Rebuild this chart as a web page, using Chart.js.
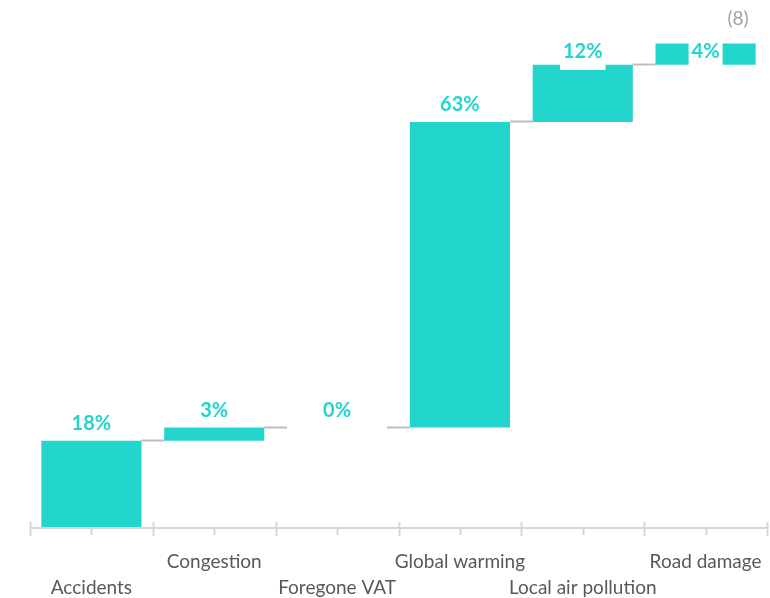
<!DOCTYPE html>
<html>
<head>
<meta charset="utf-8">
<script src="https://cdn.jsdelivr.net/npm/chart.js@4"></script>
<style>
  html, body { margin: 0; padding: 0; background: #fff; }
  #wrap { width: 770px; height: 598px; }
</style>
</head>
<body>
<div id="wrap"><canvas id="chart"></canvas></div>
<script>
// categories and their share of the total external cost (%)
const categories = ['Accidents', 'Congestion', 'Foregone VAT', 'Global warming', 'Local air pollution', 'Road damage'];
const shares = [17.8, 2.7, 0, 63.0, 11.8, 4.4];
const shareLabels = ['18%', '3%', '0%', '63%', '12%', '4%'];
const noteLabel = '(8)';

const TEAL = '#22d5cc';
const FONT = 'Lato, "Noto Sans", sans-serif';

// waterfall: each bar floats from the running total
let running = 0;
const ranges = shares.map(v => {
  const r = [running, running + v];
  running += v;
  return r;
});

// stagger tick labels: even index on second line
const tickLabels = categories.map((c, i) => i % 2 === 0 ? ['', c] : [c]);

//draws axis line, tick marks and the connectors between bars
const waterfallDeco = {
  id: 'waterfallDeco',
  beforeDatasetsDraw(chart) {
    const ctx = chart.ctx;
    const x = chart.scales.x, y = chart.scales.y;
    const area = chart.chartArea;
    const step = (area.right - area.left) / categories.length;
    const meta = chart.getDatasetMeta(0);
    ctx.save();
    // connectors
    ctx.strokeStyle = '#bdbdbd';
    ctx.lineWidth = 2;
    for (let i = 0; i < meta.data.length - 1; i++) {
      const a = meta.data[i], b = meta.data[i + 1];
      const yy = Math.round(y.getPixelForValue(ranges[i][1])) - 0.5;
      ctx.beginPath();
      ctx.moveTo(a.x + a.width / 2, yy);
      ctx.lineTo(b.x - b.width / 2, yy);
      ctx.stroke();
    }
    // axis line
    const base = Math.round(area.bottom) + 1;
    ctx.strokeStyle = '#d6d6d6';
    ctx.lineWidth = 2;
    ctx.beginPath();
    ctx.moveTo(area.left, base);
    ctx.lineTo(area.right, base);
    ctx.stroke();
    // major ticks at category boundaries, minor at centers
    for (let i = 0; i <= categories.length; i++) {
      const px = Math.round(area.left + i * step) + 0.5;
      ctx.beginPath();
      ctx.moveTo(px, base - 6);
      ctx.lineTo(px, base + 8);
      ctx.stroke();
    }
    categories.forEach((c, i) => {
      const px = Math.round(x.getPixelForValue(i)) + 0.5;
      ctx.beginPath();
      ctx.moveTo(px, base);
      ctx.lineTo(px, base + 7);
      ctx.stroke();
    });
    ctx.restore();
  },
  afterDatasetsDraw(chart) {
    const ctx = chart.ctx;
    const meta = chart.getDatasetMeta(0);
    const minY = 52;
    ctx.save();
    ctx.font = 'bold 20px ' + FONT;
    ctx.textAlign = 'center';
    ctx.textBaseline = 'middle';
    meta.data.forEach((bar, i) => {
      let ty = bar.y - 17;
      if (ty < minY) {
        ty = minY;
        const w = ctx.measureText(shareLabels[i]).width + 6;
        ctx.fillStyle = '#fff';
        ctx.fillRect(bar.x - w / 2, ty - 18, w, 36);
      }
      ctx.fillStyle = TEAL;
      ctx.fillText(shareLabels[i], bar.x, ty);
    });
    // note at top right
    ctx.font = '19px ' + FONT;
    ctx.fillStyle = '#a3a3a3';
    ctx.textAlign = 'center';
    ctx.fillText(noteLabel, 738, 19);
    ctx.restore();
  }
};

new Chart(document.getElementById('chart'), {
  type: 'bar',
  data: {
    labels: tickLabels,
    datasets: [{
      data: ranges,
      backgroundColor: TEAL,
      borderWidth: 0,
      barPercentage: 0.815,
      categoryPercentage: 1
    }]
  },
  options: {
    responsive: true,
    maintainAspectRatio: false,
    animation: false,
    layout: { padding: { top: 42, left: 30, right: 3, bottom: 0 } },
    plugins: {
      legend: { display: false },
      tooltip: { enabled: false }
    },
    scales: {
      x: {
        grid: { display: false, drawTicks: false },
        border: { display: false },
        afterFit(scale) {
          scale.height = 71;
          scale.paddingLeft = 0;
          scale.paddingRight = 0;
        },
        ticks: {
          autoSkip: false,
          maxRotation: 0,
          padding: 22,
          color: '#595959',
          font: { family: FONT, size: 19, lineHeight: 26 / 19 }
        }
      },
      y: {
        display: false,
        min: 0,
        max: 100
      }
    }
  },
  plugins: [waterfallDeco]
});
</script>
</body>
</html>
